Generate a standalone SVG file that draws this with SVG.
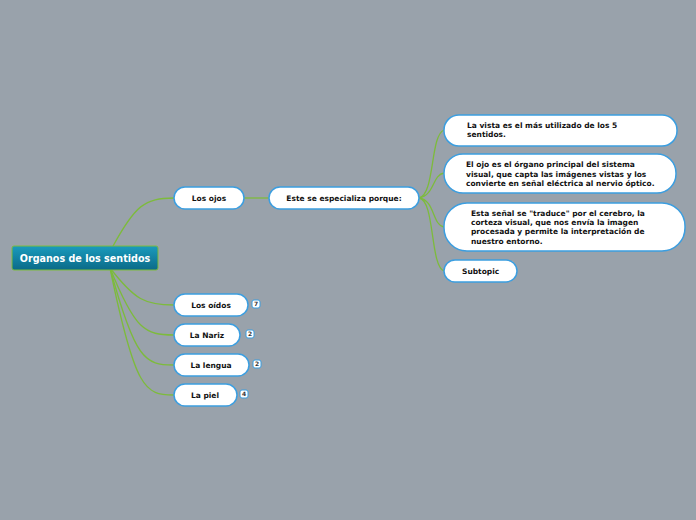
<svg xmlns="http://www.w3.org/2000/svg" width="696" height="520" viewBox="0 0 696 520">
<defs>
<linearGradient id="rootg" x1="0" y1="0" x2="0" y2="1">
<stop offset="0" stop-color="#1a9bbd"/>
<stop offset="1" stop-color="#0b6a88"/>
</linearGradient>
<style>
.n{fill:#fff;stroke:#3b9ee0;stroke-width:1.5}
.t{font-family:"DejaVu Sans",Verdana,sans-serif;font-weight:bold;font-size:7.5px;fill:#111}
.c{fill:none;stroke:#7dbb3c;stroke-width:1.3}
.b{fill:#fff;stroke:#3b9ee0;stroke-width:1}
.bt{font-family:"DejaVu Sans",sans-serif;font-weight:bold;font-size:6px;fill:#333}
</style>
</defs>
<rect width="696" height="520" fill="#99a2ab"/>
<g id="connectors">
<path class="c" d="M112,248 C135,205 145,198 174,198"/>
<path class="c" d="M110,268 C135,300 145,305 174,305"/>
<path class="c" d="M110,268 C135,330 145,335 174,335"/>
<path class="c" d="M110,268 C135,360 145,365 174,365"/>
<path class="c" d="M110,268 C135,390 145,395 174,395"/>
<line class="c" x1="244" y1="198" x2="269" y2="198"/>
<path class="c" d="M419,198 C435,195 430,135 444,130"/>
<path class="c" d="M419,198 C435,195 432,175 444,173"/>
<path class="c" d="M419,198 C435,200 432,225 444,227"/>
<path class="c" d="M419,198 C435,200 430,266 444,271"/>
</g>
<g id="root">
<rect x="12" y="246" width="146" height="24" rx="2" fill="url(#rootg)" stroke="#7dbb3c" stroke-width="1"/>
<text x="85" y="262" text-anchor="middle" font-family="DejaVu Sans,Verdana,sans-serif" font-weight="bold" font-size="9.6" fill="#fff">Organos de los sentidos</text>
</g>
<g id="los-ojos">
<rect class="n" x="174" y="187" width="70" height="22" rx="11"/>
<text class="t" x="209" y="201" text-anchor="middle">Los ojos</text>
</g>
<g id="este">
<rect class="n" x="269" y="187" width="150" height="22" rx="11"/>
<text class="t" x="344" y="201" text-anchor="middle">Este se especializa porque:</text>
</g>
<g id="leaf1">
<rect class="n" x="444" y="115" width="233" height="31" rx="15"/>
<text class="t" x="467" y="128">La vista es el más utilizado de los 5</text>
<text class="t" x="467" y="137">sentidos.</text>
</g>
<g id="leaf2">
<rect class="n" x="444" y="154" width="232" height="39" rx="19"/>
<text class="t" x="466" y="167">El ojo es el órgano principal del sistema</text>
<text class="t" x="466" y="177">visual, que capta las imágenes vistas y los</text>
<text class="t" x="466" y="186">convierte en señal eléctrica al nervio óptico.</text>
</g>
<g id="leaf3">
<rect class="n" x="444" y="203" width="241" height="48" rx="23"/>
<text class="t" x="471" y="216">Esta señal se "traduce" por el cerebro, la</text>
<text class="t" x="471" y="225">corteza visual, que nos envía la imagen</text>
<text class="t" x="471" y="234">procesada y permite la interpretación de</text>
<text class="t" x="471" y="244">nuestro entorno.</text>
</g>
<g id="subtopic">
<rect class="n" x="444" y="260" width="73" height="22" rx="11"/>
<text class="t" x="462" y="274">Subtopic</text>
</g>
<g id="los-oidos">
<rect class="n" x="174" y="294" width="74" height="22" rx="11"/>
<text class="t" x="211" y="308" text-anchor="middle">Los oídos</text>
<rect class="b" x="252" y="300" width="8" height="8" rx="2"/>
<text class="bt" x="256" y="306" text-anchor="middle">7</text>
</g>
<g id="la-nariz">
<rect class="n" x="174" y="324" width="66" height="22" rx="11"/>
<text class="t" x="207" y="338" text-anchor="middle">La Nariz</text>
<rect class="b" x="246" y="330" width="8" height="8" rx="2"/>
<text class="bt" x="250" y="336" text-anchor="middle">2</text>
</g>
<g id="la-lengua">
<rect class="n" x="174" y="354" width="75" height="22" rx="11"/>
<text class="t" x="211" y="368" text-anchor="middle">La lengua</text>
<rect class="b" x="253" y="360" width="8" height="8" rx="2"/>
<text class="bt" x="257" y="366" text-anchor="middle">2</text>
</g>
<g id="la-piel">
<rect class="n" x="174" y="384" width="63" height="22" rx="11"/>
<text class="t" x="205" y="398" text-anchor="middle">La piel</text>
<rect class="b" x="240" y="390" width="8" height="8" rx="2"/>
<text class="bt" x="244" y="396" text-anchor="middle">4</text>
</g>
</svg>
